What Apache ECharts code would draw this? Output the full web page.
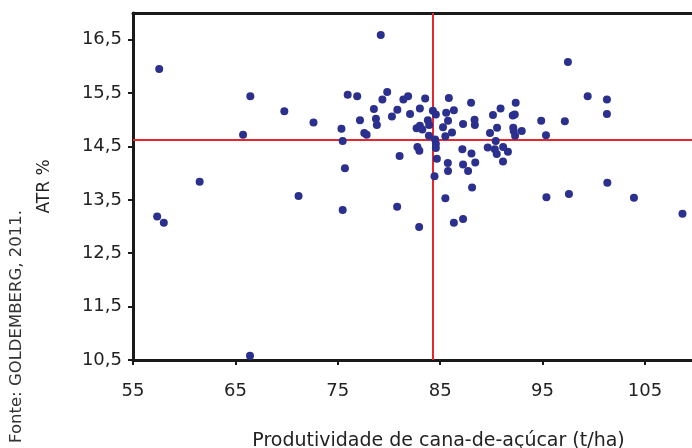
<!DOCTYPE html>
<html>
<head>
<meta charset="utf-8">
<script src="https://cdn.jsdelivr.net/npm/echarts@6/dist/echarts.min.js"></script>
<style>
html,body{margin:0;padding:0;background:#fff;}
#chart{width:692px;height:448px;}
</style>
</head>
<body>
<div id="chart"></div>
<script>
// Productivity (t/ha) for each point
const productivity = [
  57.56, 57.36, 58.01, 61.51, 65.75, 66.46, 66.43, 69.78, 72.63, 71.17,
  75.36, 75.48, 75.70, 75.48, 75.97, 76.90, 77.17, 77.59, 77.82, 78.53,
  78.73, 78.82, 79.20, 79.36, 79.83, 80.29, 80.82, 81.41, 81.87, 82.06,
  83.02, 83.54, 82.70, 83.02, 83.26, 83.80, 83.93, 83.90, 84.29, 84.58,
  84.51, 84.58, 84.58, 82.78, 82.97, 81.04, 84.68, 85.85, 85.59, 86.34,
  85.77, 85.28, 86.16, 85.51, 85.75, 85.77, 84.45, 85.51, 80.80, 82.95,
  86.34, 87.24, 88.02, 88.36, 88.39, 87.24, 87.17, 88.06, 87.24, 87.73,
  88.43, 88.12, 89.65, 90.34, 90.53, 91.15, 91.62, 91.14, 89.87, 90.43,
  90.16, 90.90, 90.56, 92.38, 92.09, 92.29, 92.14, 92.19, 92.32, 92.97,
  94.87, 95.34, 95.38, 97.18, 97.48, 97.58, 99.41, 101.29, 101.29, 101.33,
  103.93, 108.67
];
// ATR % for each point
const atr = [
  15.95, 13.19, 13.07, 13.84, 14.72, 15.44, 10.58, 15.16, 14.95, 13.57,
  14.83, 14.60, 14.09, 13.31, 15.47, 15.44, 14.99, 14.75, 14.72, 15.20,
  15.02, 14.90, 16.59, 15.38, 15.52, 15.06, 15.19, 15.38, 15.44, 15.11,
  15.21, 15.40, 14.84, 14.89, 14.82, 14.99, 14.90, 14.70, 15.17, 15.10,
  14.63, 14.55, 14.47, 14.49, 14.42, 14.32, 14.27, 15.41, 15.13, 15.18,
  14.98, 14.86, 14.76, 14.69, 14.19, 14.04, 13.94, 13.53, 13.37, 12.99,
  13.07, 13.14, 15.32, 15.00, 14.90, 14.92, 14.45, 14.37, 14.16, 14.04,
  14.20, 13.73, 14.48, 14.45, 14.36, 14.49, 14.40, 14.22, 14.75, 14.60,
  15.09, 15.21, 14.85, 15.32, 15.08, 15.10, 14.85, 14.79, 14.70, 14.79,
  14.98, 14.71, 13.55, 14.97, 16.08, 13.61, 15.44, 15.38, 15.11, 13.82,
  13.54, 13.24
];
// Mean reference lines
const meanProductivity = 84.25;
const meanAtr = 14.625;
// Tick labels
const xTicks = [55, 65, 75, 85, 95, 105];
const yTicks = [10.5, 11.5, 12.5, 13.5, 14.5, 15.5, 16.5];

const points = productivity.map((p, i) => [p, atr[i]]);
const FONT = 'DejaVu Sans';

const chart = echarts.init(document.getElementById('chart'), null, {renderer: 'canvas'});
chart.setOption({
  animation: false,
  backgroundColor: '#ffffff',
  grid: {left: 133, right: 0, top: 13, bottom: 88, containLabel: false, outerBoundsMode: 'none'},
  xAxis: [{
    type: 'value',
    min: 55,
    max: 109.6,
    position: 'bottom',
    name: 'Produtividade de cana-de-açúcar (t/ha)',
    nameLocation: 'middle',
    nameGap: 72,
    nameTextStyle: {fontFamily: FONT, fontSize: 19, color: '#222', padding: [0, 0, 0, 52]},
    axisLine: {show: true, onZero: false, lineStyle: {color: '#1a1a1a', width: 3}},
    axisTick: {show: true, inside: false, length: 5, customValues: xTicks, lineStyle: {color: '#1a1a1a', width: 2}},
    axisLabel: {customValues: xTicks, margin: 22, fontFamily: FONT, fontSize: 18, color: '#222',
      formatter: v => String(v).replace('.', ',')},
    splitLine: {show: false}
  }, {
    type: 'value',
    min: 55,
    max: 109.6,
    position: 'top',
    axisLine: {show: true, onZero: false, lineStyle: {color: '#1a1a1a', width: 3}},
    axisTick: {show: false},
    axisLabel: {show: false},
    splitLine: {show: false}
  }],
  yAxis: {
    type: 'value',
    min: 10.5,
    max: 17.0,
    name: 'ATR %',
    nameLocation: 'middle',
    nameRotate: 90,
    nameGap: 80,
    nameTextStyle: {fontFamily: FONT, fontSize: 17, color: '#222'},
    axisLine: {show: true, onZero: false, lineStyle: {color: '#1a1a1a', width: 3}},
    axisTick: {show: true, inside: false, length: 5, customValues: yTicks, lineStyle: {color: '#1a1a1a', width: 2}},
    axisLabel: {customValues: yTicks, margin: 11, fontFamily: FONT, fontSize: 18, color: '#222',
      padding: [4, 0, 0, 0],
      formatter: v => v.toFixed(1).replace('.', ',')},
    splitLine: {show: false}
  },
  graphic: [{
    type: 'text',
    x: 17,
    y: 443,
    rotation: Math.PI / 2,
    style: {text: 'Fonte: GOLDEMBERG, 2011.', fontFamily: FONT, fontSize: 16.5, fill: '#333',
      textAlign: 'left', textVerticalAlign: 'middle'}
  }],
  series: [{
    type: 'scatter',
    xAxisIndex: 0,
    data: points,
    symbol: 'circle',
    symbolSize: 8,
    itemStyle: {color: '#2b2f8e', opacity: 1},
    z: 3,
    markLine: {
      silent: true,
      symbol: ['none', 'none'],
      label: {show: false},
      lineStyle: {color: '#e8262e', width: 2, type: 'solid'},
      data: [{xAxis: meanProductivity}, {yAxis: meanAtr}],
      z: 2
    }
  }]
});
</script>
</body>
</html>
